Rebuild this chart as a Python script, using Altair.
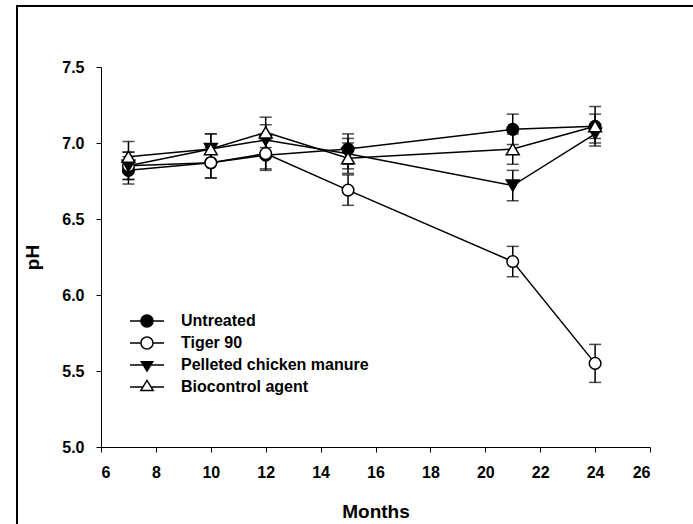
import altair as alt
import pandas as pd

months = [7, 10, 12, 15, 21, 24]
series_names = ["Untreated", "Tiger 90", "Pelleted chicken manure", "Biocontrol agent"]
untreated = [6.82, 6.87, 6.92, 6.96, 7.09, 7.11]
tiger90 = [6.85, 6.87, 6.93, 6.69, 6.22, 5.55]
pelleted = [6.85, 6.96, 7.02, 6.93, 6.72, 7.06]
biocontrol = [6.91, 6.96, 7.07, 6.90, 6.96, 7.11]
untreated_se = [0.09, 0.10, 0.10, 0.10, 0.10, 0.08]
tiger90_se = [0.09, 0.10, 0.10, 0.10, 0.10, 0.125]
pelleted_se = [0.09, 0.10, 0.10, 0.10, 0.10, 0.06]
biocontrol_se = [0.10, 0.10, 0.10, 0.10, 0.10, 0.13]
x_ticks = [6, 8, 10, 12, 14, 16, 18, 20, 22, 24, 26]
y_ticks = [5.0, 5.5, 6.0, 6.5, 7.0, 7.5]

rows = []
for name, vals, errs in zip(series_names,
                            [untreated, tiger90, pelleted, biocontrol],
                            [untreated_se, tiger90_se, pelleted_se, biocontrol_se]):
    for m, v, e in zip(months, vals, errs):
        rows.append({"Months": m, "pH": v, "series": name, "lo": v - e, "hi": v + e})
df = pd.DataFrame(rows)

FONT = "Liberation Sans"

xscale = alt.Scale(domain=[6, 26], nice=False, zero=False)
yscale = alt.Scale(domain=[5.0, 7.5], nice=False, zero=False)
xaxis = alt.Axis(values=x_ticks, title="Months", titleX=274.5, titleY=70,
                 titleBaseline="alphabetic", labelPadding=12)
yaxis = alt.Axis(values=y_ticks, format=".1f", title="pH", titleX=-59, titleY=190,
                 titleBaseline="bottom", titleAlign="center", labelPadding=12)

X = alt.X("Months:Q", scale=xscale, axis=xaxis)
Y = alt.Y("pH:Q", scale=yscale, axis=yaxis)

base = alt.Chart(df)

lines = base.mark_line(color="black", strokeWidth=1.5).encode(
    x=X, y=Y, detail="series:N")

rules = base.mark_rule(color="black", strokeWidth=1.5).encode(
    x=X, y=alt.Y("lo:Q", scale=yscale, axis=yaxis), y2="hi:Q")

caps_lo = base.mark_tick(color="black", thickness=1.5, size=12, orient="horizontal").encode(
    x=X, y=alt.Y("lo:Q", scale=yscale, axis=yaxis))
caps_hi = base.mark_tick(color="black", thickness=1.5, size=12, orient="horizontal").encode(
    x=X, y=alt.Y("hi:Q", scale=yscale, axis=yaxis))

marker_fills = ["black", "white", "black", "white"]
marker_shapes = ["circle", "circle", "triangle-down", "triangle-up"]
marker_sizes = [135, 135, 165, 165]

point_layers = []
for name, shp, sz, fc in zip(series_names, marker_shapes, marker_sizes, marker_fills):
    point_layers.append(
        base.transform_filter(alt.datum.series == name).mark_point(
            filled=True, fill=fc, stroke="black", strokeWidth=1.5, opacity=1,
            shape=shp, size=sz
        ).encode(x=X, y=Y)
    )

# legend glyphs (line stub + marker), drawn as filled outlines
stub_c = "M-1.7,-0.075H-0.55V0.075H-1.7ZM0.55,-0.075H1.7V0.075H0.55Z"
stub_t = "M-1.7,-0.075H-0.4V0.075H-1.7ZM0.4,-0.075H1.7V0.075H0.4Z"
disk = "M-0.675,0A0.675,0.675,0,1,1,0.675,0A0.675,0.675,0,1,1,-0.675,0Z"
hole = "M-0.525,0A0.525,0.525,0,1,0,0.525,0A0.525,0.525,0,1,0,-0.525,0Z"
tri_down = "M-0.7,-0.4L0.7,-0.4L0,0.75Z"
tri_up_outer = "M-0.75,0.42L0,-0.8L0.75,0.42Z"
tri_up_inner = "M-0.481,0.27L0.481,0.27L0,-0.514Z"
legend_paths = [
    stub_c + disk,
    stub_c + disk + hole,
    stub_t + tri_down,
    stub_t + tri_up_outer + tri_up_inner,
]
leg = alt.Legend(title=None, orient="none", legendX=36, legendY=244,
                 symbolSize=400, symbolFillColor="black", symbolStrokeWidth=0,
                 symbolOpacity=1, labelOffset=24, rowPadding=4, padding=0,
                 labelFont=FONT, labelFontSize=16, labelFontWeight="bold",
                 labelColor="black", labelLimit=400)
legend_layer = base.mark_point(filled=True, fill="black", strokeWidth=0, opacity=0).encode(
    x=X, y=Y,
    shape=alt.Shape("series:N", scale=alt.Scale(domain=series_names, range=legend_paths), legend=leg),
)

frame = alt.Chart(pd.DataFrame({"f": [0]})).mark_rect(
    fillOpacity=0, stroke="black", strokeWidth=2).encode(
    x=alt.value(-84), x2=alt.value(640), y=alt.value(-61), y2=alt.value(500))

chart = alt.layer(lines, rules, caps_lo, caps_hi, *point_layers, legend_layer, frame).properties(
    width=549, height=380,
    autosize=alt.AutoSizeParams(type="none"),
    padding={"left": 101, "top": 67, "right": 43, "bottom": 77},
    background="white",
).configure_view(stroke=None).configure_axis(
    grid=False, domainColor="black", domainWidth=1, tickColor="black", tickWidth=1,
    tickSize=5, labelFont=FONT, labelFontSize=16, labelFontWeight="bold",
    labelColor="black", titleFont=FONT, titleFontSize=19, titleFontWeight="bold",
    titleColor="black",
)

chart.save("out.html", embed_options={"renderer": "svg", "actions": False})
